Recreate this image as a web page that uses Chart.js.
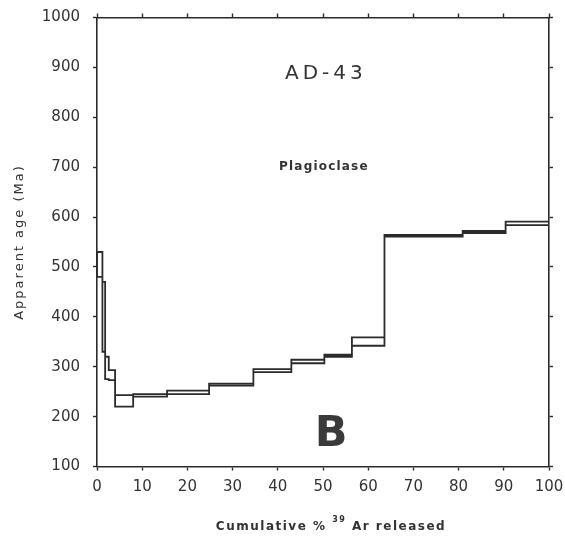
<!DOCTYPE html>
<html>
<head>
<meta charset="utf-8">
<script src="https://cdn.jsdelivr.net/npm/chart.js@4"></script>
<style>
  html, body { margin: 0; padding: 0; background: #fff; }
  #wrap { width: 565px; height: 541px; }
</style>
</head>
<body>
<div id="wrap"><canvas id="grafico" width="565" height="541"></canvas></div>
<script>
// step edges (cumulative % 39Ar) and the age band of each step (Ma)
const stepEdges = [0, 1.2, 1.8, 2.6, 4.0, 8.0, 15.5, 24.8, 34.6, 43.0, 50.3, 56.4, 63.6, 80.9, 90.4, 100];
const ageHigh = [530, 470, 320, 293, 243, 245, 252, 266, 295, 314, 324, 359, 564, 572, 591];
const ageLow  = [480, 330, 275, 273, 220, 240, 245, 262, 289, 307, 320, 342, 561, 568, 584];

const xTicks = [0, 10, 20, 30, 40, 50, 60, 70, 80, 90, 100];
const yTicks = [100, 200, 300, 400, 500, 600, 700, 800, 900, 1000];

const ink = '#2b2b2b';
const font = 'DejaVu Sans';

// outline of the spectrum: upper steps left to right, lower steps back
function contorno() {
  const pts = [];
  for (let i = 0; i < ageHigh.length; i++) {
    pts.push({ x: stepEdges[i], y: ageHigh[i] });
    pts.push({ x: stepEdges[i + 1], y: ageHigh[i] });
  }
  for (let i = ageLow.length - 1; i >= 0; i--) {
    pts.push({ x: stepEdges[i + 1], y: ageLow[i] });
    pts.push({ x: stepEdges[i], y: ageLow[i] });
  }
  pts.push({ x: stepEdges[0], y: ageHigh[0] });
  return pts;
}

// labels inside the plot and the axis titles
const etiquetas = {
  id: 'etiquetas',
  afterDraw(chart) {
    const { ctx, scales, chartArea } = chart;
    const px = v => scales.x.getPixelForValue(v);
    const py = v => scales.y.getPixelForValue(v);
    ctx.save();
    ctx.fillStyle = '#333';
    ctx.textAlign = 'center';
    ctx.textBaseline = 'middle';
    ctx.font = `20px "${font}"`;
    ctx.letterSpacing = '4px';
    ctx.fillText('AD-43', px(50.2) + 2, py(887));
    ctx.font = `bold 12px "${font}"`;
    ctx.letterSpacing = '1.2px';
    ctx.fillText('Plagioclase', px(50.2), py(700));
    ctx.letterSpacing = '0px';
    ctx.fillStyle = '#3a3a3a';
    ctx.font = `bold 43px "${font}"`;
    ctx.fillText('B', px(51.8), py(163));

    // y title
    ctx.fillStyle = '#333';
    ctx.save();
    ctx.translate(20, (chartArea.top + chartArea.bottom) / 2);
    ctx.rotate(-Math.PI / 2);
    ctx.font = `13px "${font}"`;
    ctx.letterSpacing = '2px';
    ctx.fillText('Apparent age (Ma)', 0, 0);
    ctx.restore();

    // x title with superscript 39
    const partes = [
      { t: 'Cumulative % ', f: `bold 12px "${font}"`, dy: 0 },
      { t: '39', f: `bold 8px "${font}"`, dy: -7 },
      { t: ' Ar released', f: `bold 12px "${font}"`, dy: 0 }
    ];
    ctx.letterSpacing = '1.5px';
    let total = 0;
    partes.forEach(p => { ctx.font = p.f; p.w = ctx.measureText(p.t).width; total += p.w; });
    let x = 331 - total / 2;
    ctx.textAlign = 'left';
    partes.forEach(p => { ctx.font = p.f; ctx.fillText(p.t, x, 527 + p.dy); x += p.w; });
    ctx.restore();
  }
};

const ejeComun = {
  type: 'linear',
  border: { display: true, color: ink, width: 1.6 },
  grid: { drawOnChartArea: false, drawTicks: true, tickLength: 4, color: ink, tickWidth: 1.4 }
};

const sinRelleno = s => { s.paddingLeft = 0; s.paddingRight = 0; s.paddingTop = 0; s.paddingBottom = 0; };

new Chart(document.getElementById('grafico'), {
  type: 'scatter',
  data: {
    datasets: [{
      data: contorno(),
      showLine: true,
      borderColor: ink,
      borderWidth: 1.8,
      pointRadius: 0,
      fill: false
    }]
  },
  options: {
    responsive: false,
    animation: false,
    events: [],
    layout: { padding: 0 },
    plugins: { legend: { display: false }, tooltip: { enabled: false } },
    scales: {
      x: {
        ...ejeComun,
        position: 'bottom',
        min: 0, max: 100,
        afterBuildTicks: s => { s.ticks = xTicks.map(v => ({ value: v })); },
        afterFit: s => { s.height = 74.5; sinRelleno(s); },
        ticks: { color: '#333', font: { family: font, size: 15 }, padding: 8, maxRotation: 0, callback: v => String(v) }
      },
      x2: {
        ...ejeComun,
        position: 'top',
        min: 0, max: 100,
        afterBuildTicks: s => { s.ticks = xTicks.map(v => ({ value: v })); },
        afterFit: s => { s.height = 17.5; sinRelleno(s); },
        ticks: { display: false }
      },
      y: {
        ...ejeComun,
        position: 'left',
        min: 100, max: 1000,
        afterBuildTicks: s => { s.ticks = yTicks.map(v => ({ value: v })); },
        afterFit: s => { s.width = 97; sinRelleno(s); },
        ticks: { color: '#333', font: { family: font, size: 15 }, padding: 13, callback: v => String(v) }
      },
      y2: {
        ...ejeComun,
        position: 'right',
        min: 100, max: 1000,
        afterBuildTicks: s => { s.ticks = yTicks.map(v => ({ value: v })); },
        afterFit: s => { s.width = 16; sinRelleno(s); },
        ticks: { display: false }
      }
    }
  },
  plugins: [etiquetas]
});
</script>
</body>
</html>
